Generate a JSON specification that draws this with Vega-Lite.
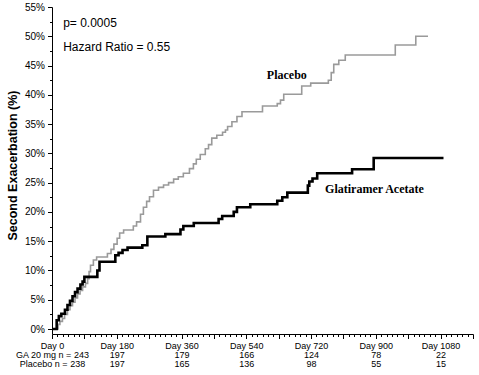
{
  "$schema": "https://vega.github.io/schema/vega-lite/v6.json",
  "width": 421,
  "height": 327,
  "autosize": {"type": "none"},
  "padding": {"left": 52, "top": 7, "right": 6, "bottom": 41},
  "background": "white",
  "config": {"view": {"stroke": null}, "font": "Liberation Sans"},
  "datasets": {
    "curves": [
      {"group": "GA", "day": 0, "pct": 0},
      {"group": "GA", "day": 13, "pct": 1.5},
      {"group": "GA", "day": 19, "pct": 2.2},
      {"group": "GA", "day": 26, "pct": 2.6},
      {"group": "GA", "day": 36, "pct": 3.3},
      {"group": "GA", "day": 43, "pct": 4.1},
      {"group": "GA", "day": 50, "pct": 4.8},
      {"group": "GA", "day": 57, "pct": 5.6},
      {"group": "GA", "day": 64, "pct": 6.3},
      {"group": "GA", "day": 71, "pct": 6.9},
      {"group": "GA", "day": 79, "pct": 7.6},
      {"group": "GA", "day": 85, "pct": 8.1},
      {"group": "GA", "day": 90, "pct": 8.9},
      {"group": "GA", "day": 126, "pct": 10.0},
      {"group": "GA", "day": 132, "pct": 11.5},
      {"group": "GA", "day": 176, "pct": 12.6},
      {"group": "GA", "day": 185, "pct": 13.0},
      {"group": "GA", "day": 196, "pct": 13.5},
      {"group": "GA", "day": 210, "pct": 13.9},
      {"group": "GA", "day": 251, "pct": 14.3},
      {"group": "GA", "day": 265, "pct": 15.8},
      {"group": "GA", "day": 315, "pct": 16.2},
      {"group": "GA", "day": 357, "pct": 17.0},
      {"group": "GA", "day": 365, "pct": 17.6},
      {"group": "GA", "day": 394, "pct": 18.1},
      {"group": "GA", "day": 463, "pct": 18.8},
      {"group": "GA", "day": 473, "pct": 19.3},
      {"group": "GA", "day": 505, "pct": 20.0},
      {"group": "GA", "day": 514, "pct": 20.8},
      {"group": "GA", "day": 551, "pct": 21.3},
      {"group": "GA", "day": 626, "pct": 21.9},
      {"group": "GA", "day": 640, "pct": 22.5},
      {"group": "GA", "day": 654, "pct": 23.3},
      {"group": "GA", "day": 711, "pct": 24.5},
      {"group": "GA", "day": 715, "pct": 25.2},
      {"group": "GA", "day": 724, "pct": 25.7},
      {"group": "GA", "day": 737, "pct": 26.6},
      {"group": "GA", "day": 834, "pct": 27.3},
      {"group": "GA", "day": 894, "pct": 29.2},
      {"group": "GA", "day": 1088, "pct": 29.2},
      {"group": "Placebo", "day": 0, "pct": 0},
      {"group": "Placebo", "day": 17, "pct": 0.8},
      {"group": "Placebo", "day": 22, "pct": 1.3},
      {"group": "Placebo", "day": 29, "pct": 1.8},
      {"group": "Placebo", "day": 35, "pct": 2.5},
      {"group": "Placebo", "day": 43, "pct": 3.3},
      {"group": "Placebo", "day": 50, "pct": 4.0},
      {"group": "Placebo", "day": 57, "pct": 4.6},
      {"group": "Placebo", "day": 64, "pct": 5.3},
      {"group": "Placebo", "day": 71, "pct": 6.0},
      {"group": "Placebo", "day": 78, "pct": 6.6},
      {"group": "Placebo", "day": 85, "pct": 7.2},
      {"group": "Placebo", "day": 93, "pct": 7.8},
      {"group": "Placebo", "day": 99, "pct": 8.6},
      {"group": "Placebo", "day": 103, "pct": 9.8},
      {"group": "Placebo", "day": 107, "pct": 10.9},
      {"group": "Placebo", "day": 115, "pct": 11.8},
      {"group": "Placebo", "day": 124, "pct": 12.3},
      {"group": "Placebo", "day": 154, "pct": 12.9},
      {"group": "Placebo", "day": 164, "pct": 13.6},
      {"group": "Placebo", "day": 172, "pct": 14.5},
      {"group": "Placebo", "day": 181, "pct": 15.5},
      {"group": "Placebo", "day": 188, "pct": 16.4},
      {"group": "Placebo", "day": 199, "pct": 16.9},
      {"group": "Placebo", "day": 226, "pct": 17.6},
      {"group": "Placebo", "day": 235, "pct": 18.3},
      {"group": "Placebo", "day": 246, "pct": 19.6},
      {"group": "Placebo", "day": 254, "pct": 20.8},
      {"group": "Placebo", "day": 263, "pct": 21.8},
      {"group": "Placebo", "day": 271, "pct": 22.6},
      {"group": "Placebo", "day": 282, "pct": 23.7},
      {"group": "Placebo", "day": 296, "pct": 24.2},
      {"group": "Placebo", "day": 310, "pct": 24.6},
      {"group": "Placebo", "day": 324, "pct": 25.0},
      {"group": "Placebo", "day": 338, "pct": 25.6},
      {"group": "Placebo", "day": 351, "pct": 26.0},
      {"group": "Placebo", "day": 365, "pct": 26.6},
      {"group": "Placebo", "day": 382, "pct": 27.4},
      {"group": "Placebo", "day": 393, "pct": 28.2},
      {"group": "Placebo", "day": 401, "pct": 29.0},
      {"group": "Placebo", "day": 412, "pct": 29.8},
      {"group": "Placebo", "day": 426, "pct": 30.8},
      {"group": "Placebo", "day": 435, "pct": 31.5},
      {"group": "Placebo", "day": 444, "pct": 32.6},
      {"group": "Placebo", "day": 458, "pct": 33.1},
      {"group": "Placebo", "day": 474, "pct": 33.6},
      {"group": "Placebo", "day": 482, "pct": 34.0},
      {"group": "Placebo", "day": 488, "pct": 34.6},
      {"group": "Placebo", "day": 500, "pct": 35.4},
      {"group": "Placebo", "day": 514, "pct": 36.3},
      {"group": "Placebo", "day": 528, "pct": 37.1},
      {"group": "Placebo", "day": 585, "pct": 38.1},
      {"group": "Placebo", "day": 626, "pct": 38.5},
      {"group": "Placebo", "day": 635, "pct": 39.1},
      {"group": "Placebo", "day": 644, "pct": 40.1},
      {"group": "Placebo", "day": 694, "pct": 41.5},
      {"group": "Placebo", "day": 719, "pct": 42.0},
      {"group": "Placebo", "day": 768, "pct": 42.5},
      {"group": "Placebo", "day": 776, "pct": 43.8},
      {"group": "Placebo", "day": 783, "pct": 45.2},
      {"group": "Placebo", "day": 797, "pct": 45.9},
      {"group": "Placebo", "day": 815, "pct": 46.8},
      {"group": "Placebo", "day": 954, "pct": 48.5},
      {"group": "Placebo", "day": 1011, "pct": 50.0},
      {"group": "Placebo", "day": 1045, "pct": 50.0}
    ],
    "stats": [
      {"day": 31, "pct": 52.3, "label": "p= 0.0005"},
      {"day": 31, "pct": 48.2, "label": "Hazard Ratio = 0.55"}
    ],
    "curvelabels": [
      {"day": 597, "pct": 43.4, "label": "Placebo"},
      {"day": 759, "pct": 23.9, "label": "Glatiramer Acetate"}
    ]
  },
  "encoding": {
    "x": {
      "field": "day",
      "type": "quantitative",
      "scale": {"domain": [0, 1170], "nice": false, "zero": false},
      "axis": {
        "title": null,
        "grid": false,
        "values": [0,15,30,45,60,75,90,105,120,135,150,165,180,195,210,225,240,255,270,285,300,315,330,345,360,375,390,405,420,435,450,465,480,495,510,525,540,555,570,585,600,615,630,645,660,675,690,705,720,735,750,765,780,795,810,825,840,855,870,885,900,915,930,945,960,975,990,1005,1020,1035,1050,1065,1080,1095,1110,1125,1140,1155,1170],
        "labelExpr": "datum.value % 180 === 0 ? ['Day ' + datum.value, (datum.value === 0 ? 'GA 20 mg n = ' : '') + [243,197,179,166,124,78,22][datum.value/180], (datum.value === 0 ? 'Placebo n = ' : '') + [238,197,165,136,98,55,15][datum.value/180]] : ''",
        "labelOverlap": false,
        "labelFlush": false,
        "labelBound": false,
        "labelFontSize": 9,
        "labelLineHeight": 9,
        "labelPadding": 3,
        "labelColor": "black",
        "domainColor": "black",
        "tickColor": "black",
        "tickSize": {"condition": {"test": "datum.value % 90 !== 0", "value": 2.5}, "value": 4.5}
      }
    },
    "y": {
      "field": "pct",
      "type": "quantitative",
      "scale": {"domain": [-0.85, 55], "nice": false, "zero": false},
      "axis": {
        "title": "Second Exacerbation (%)",
        "titleFontSize": 12.5,
        "titleFontWeight": "bold",
        "titleColor": "black",
        "titlePadding": 5,
        "titleY": 158,
        "grid": false,
        "values": [0,2.5,5,7.5,10,12.5,15,17.5,20,22.5,25,27.5,30,32.5,35,37.5,40,42.5,45,47.5,50,52.5,55],
        "labelExpr": "datum.value % 5 === 0 ? datum.value + '%' : ''",
        "labelFontSize": 10,
        "labelPadding": 3,
        "labelColor": "black",
        "domainColor": "black",
        "tickColor": "black",
        "tickSize": {"condition": {"test": "datum.value % 5 !== 0", "value": 2.5}, "value": 4.5}
      }
    }
  },
  "layer": [
    {
      "data": {"name": "curves"},
      "transform": [{"filter": "datum.group === 'Placebo'"}],
      "mark": {"type": "line", "interpolate": "step-after", "color": "#9a9a9a", "strokeWidth": 1.6}
    },
    {
      "data": {"name": "curves"},
      "transform": [{"filter": "datum.group === 'GA'"}],
      "mark": {"type": "line", "interpolate": "step-after", "color": "black", "strokeWidth": 2.6}
    },
    {
      "data": {"name": "stats"},
      "mark": {"type": "text", "align": "left", "baseline": "middle", "font": "Liberation Sans", "fontSize": 12, "color": "black"},
      "encoding": {"text": {"field": "label"}}
    },
    {
      "data": {"name": "curvelabels"},
      "mark": {"type": "text", "align": "left", "baseline": "middle", "font": "Liberation Serif", "fontSize": 12, "fontWeight": "bold", "color": "black"},
      "encoding": {"text": {"field": "label"}}
    }
  ]
}
